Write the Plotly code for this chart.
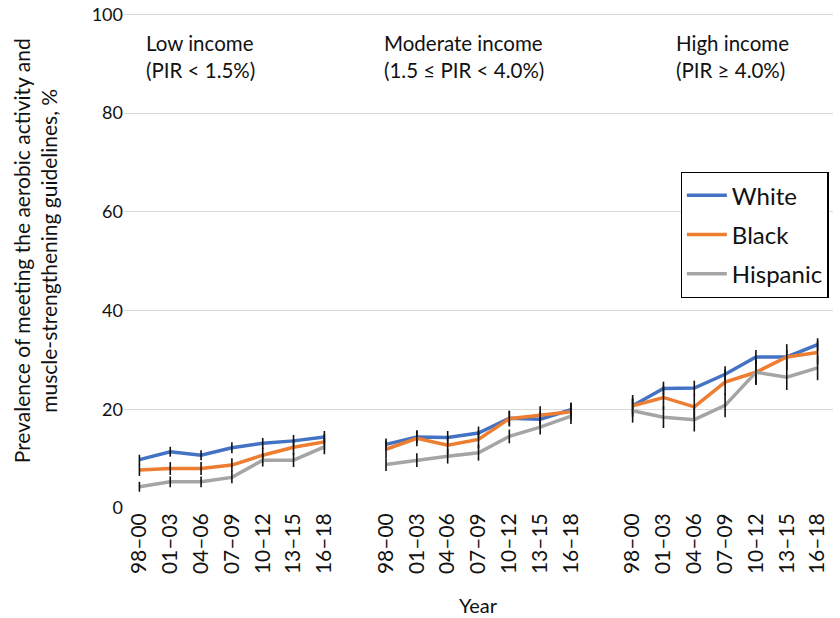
import plotly.graph_objects as go

# survey cycles, repeated in each income group
years = ["98–00", "01–03", "04–06", "07–09", "10–12", "13–15", "16–18"]
groups = ["Low income<br>(PIR < 1.5%)",
          "Moderate income<br>(1.5 ≤ PIR < 4.0%)",
          "High income<br>(PIR ≥ 4.0%)"]

# prevalence, % (low, moderate, high income, 7 cycles each)
white = [9.8, 11.4, 10.7, 12.2, 13.1, 13.6, 14.4,
         12.9, 14.4, 14.3, 15.2, 18.2, 18.0, 19.9,
         20.7, 24.2, 24.3, 27.1, 30.6, 30.6, 33.1]
black = [7.7, 8.0, 8.0, 8.7, 10.7, 12.3, 13.4,
         11.9, 14.1, 12.7, 13.9, 18.1, 18.8, 19.5,
         20.7, 22.4, 20.5, 25.5, 27.5, 30.6, 31.5]
hispanic = [4.3, 5.3, 5.3, 6.2, 9.7, 9.7, 12.4,
            8.8, 9.7, 10.5, 11.2, 14.5, 16.4, 18.6,
            19.7, 18.4, 17.9, 20.8, 27.5, 26.5, 28.4]

# half-width of the error bars
white_err = [1.0, 1.0, 1.0, 1.1, 1.1, 1.2, 1.2,
             1.2, 1.3, 1.3, 1.3, 1.5, 1.5, 1.5,
             1.6, 1.4, 1.5, 1.6, 1.4, 1.5, 1.3]
black_err = [1.2, 1.3, 1.3, 1.4, 1.5, 1.6, 1.6,
             1.8, 1.6, 1.9, 1.8, 1.6, 1.8, 1.7,
             2.2, 2.4, 2.5, 2.6, 2.5, 2.6, 2.4]
hispanic_err = [1.0, 1.1, 1.1, 1.2, 1.3, 1.4, 1.5,
                1.3, 1.4, 1.5, 1.6, 1.4, 1.5, 1.6,
                2.4, 2.2, 2.4, 2.4, 2.6, 2.6, 2.5]

series = [("White", white, white_err, "#4472C4"),
          ("Black", black, black_err, "#ED7D31"),
          ("Hispanic", hispanic, hispanic_err, "#A5A5A5")]

# one empty slot between income groups
xs, labels = [], []
for g in range(len(groups)):
    for i, y in enumerate(years):
        xs.append(g * (len(years) + 1) + i)
        labels.append(y)

fig = go.Figure()
for name, vals, err, col in series:
    # line segments of each income group, gaps between them
    x_line, y_line = [], []
    for g in range(len(groups)):
        sl = slice(g * len(years), (g + 1) * len(years))
        x_line += xs[sl] + [None]
        y_line += vals[sl] + [None]
    fig.add_trace(go.Scatter(x=x_line, y=y_line, mode="lines", name=name,
                             legendgroup=name,
                             line=dict(color=col, width=3.5)))
    fig.add_trace(go.Scatter(x=xs, y=vals, mode="markers", showlegend=False,
                             marker=dict(size=1, opacity=0),
                             error_y=dict(type="data", array=err, color="#111",
                                          thickness=1.6, width=0),
                             hoverinfo="skip"))

ann_x = [0.028, 0.364, 0.776]
for gx, txt in zip(ann_x, groups):
    fig.add_annotation(x=gx, y=0.968, xref="paper", yref="paper", text=txt,
                       showarrow=False, xanchor="left", yanchor="top", align="left",
                       font=dict(size=20.5, color="#111"))

# axis titles as annotations
fig.add_annotation(x=-0.126, y=0.52, xref="paper", yref="paper", textangle=-90,
                   text="Prevalence of meeting the aerobic activity and<br>"
                        "muscle-strengthening guidelines, %",
                   showarrow=False, xanchor="center", yanchor="middle",
                   font=dict(size=21, color="#111"))
fig.add_annotation(x=0.5, y=-0.196, xref="paper", yref="paper", text="Year",
                   showarrow=False, xanchor="center", yanchor="middle",
                   font=dict(size=20, color="#111"))

fig.update_layout(
    width=840, height=618,
    margin=dict(l=124, r=7, t=13, b=110),
    plot_bgcolor="white", paper_bgcolor="white",
    font=dict(family="Lato", color="#111"),
    showlegend=True,
    legend=dict(x=0.785, y=0.679, xanchor="left", yanchor="top",
                bgcolor="white", bordercolor="black", borderwidth=1.3,
                font=dict(size=24), itemwidth=40, tracegroupgap=5),
)
fig.update_xaxes(range=[-0.5, xs[-1] + 0.5], tickmode="array", tickvals=xs,
                 ticktext=labels, tickangle=-90, tickfont=dict(size=21),
                 showgrid=False, zeroline=False, showline=False, ticks="",
                 automargin=False)
fig.update_yaxes(range=[0, 100.3], tickvals=[0, 20, 40, 60, 80, 100],
                 showgrid=True, gridcolor="#D9D9D9",
                 gridwidth=1.3, zeroline=False, showline=False, ticks="",
                 tickfont=dict(size=18), automargin=False)

# drop the browser's default 8px body margin, hide the modebar
fig.write_html("out.html", config={"displayModeBar": False},
               post_script="document.body.style.margin='0';")
